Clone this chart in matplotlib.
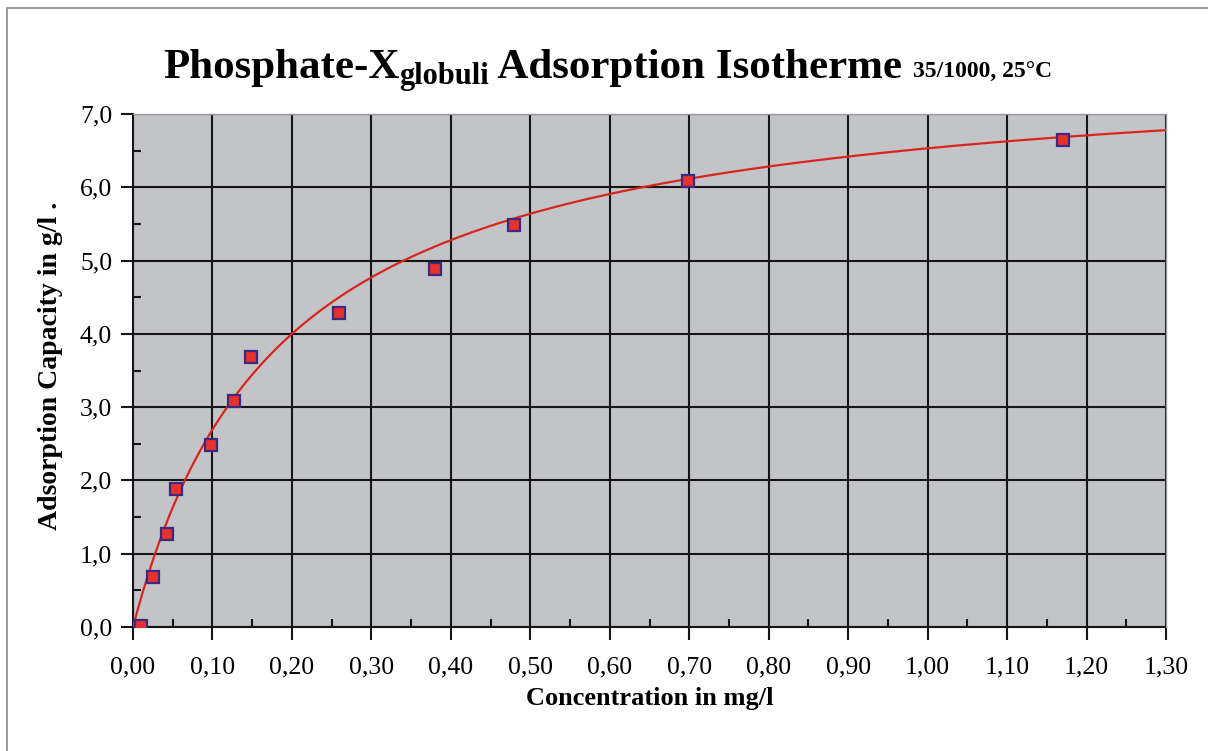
import numpy as np
import matplotlib
matplotlib.use('Agg')
import matplotlib.pyplot as plt
from matplotlib.patches import Rectangle
from matplotlib.ticker import MultipleLocator, FuncFormatter

# measured points (concentration mg/l, capacity g/l)
conc = [0.010, 0.025, 0.043, 0.054, 0.098, 0.127, 0.148, 0.259, 0.380, 0.479, 0.698, 1.170]
capacity = [0.02, 0.68, 1.27, 1.88, 2.48, 3.08, 3.68, 4.28, 4.88, 5.48, 6.08, 6.65]

# Langmuir fit parameters
q_max = 7.76
k_half = 0.188

serif = 'Liberation Serif'
plt.rcParams['font.family'] = [serif, 'DejaVu Serif']

fig = plt.figure(figsize=(12.08, 7.51), dpi=100)
fig.patches.append(Rectangle((7 / 1208, -0.1), 1.2, (751 - 8) / 751 + 0.1,
                             transform=fig.transFigure, fill=False,
                             edgecolor='#8a8a8a', lw=1.2))

ax = fig.add_axes([133 / 1208, 1 - 627 / 751, (1166 - 133) / 1208, (627 - 114) / 751])
ax.set_facecolor('#c3c4c8')
ax.set_xlim(0, 1.30)
ax.set_ylim(0, 7.0)

xs = np.linspace(0, 1.30, 400)
ax.plot(xs, q_max * xs / (k_half + xs), color='#d8261e', lw=1.6, zorder=3)
ax.plot(conc, capacity, ls='none', marker='s', ms=8.5, mfc='#e8302c',
        mec='#3b2a80', mew=1.6, zorder=4)

ax.xaxis.set_major_locator(MultipleLocator(0.1))
ax.xaxis.set_minor_locator(MultipleLocator(0.05))
ax.yaxis.set_major_locator(MultipleLocator(1.0))
ax.yaxis.set_minor_locator(MultipleLocator(0.5))
ax.xaxis.set_major_formatter(FuncFormatter(lambda v, p: f'{v:.2f}'.replace('.', ',')))
ax.yaxis.set_major_formatter(FuncFormatter(lambda v, p: f'{v:.1f}'.replace('.', ',')))

ax.grid(True, which='major', color='#161616', lw=1.5, zorder=1)
ax.set_axisbelow(True)
ax.tick_params(which='major', direction='out', length=9, width=1.5, color='#161616',
               labelsize=18.5)
ax.tick_params(axis='x', which='major', pad=12)
ax.tick_params(axis='y', which='major', pad=6)
ax.tick_params(which='minor', direction='in', length=6, width=1.5, color='#161616')

for s in ['left', 'bottom']:
    ax.spines[s].set_color('#161616')
    ax.spines[s].set_linewidth(1.5)
for s in ['top', 'right']:
    ax.spines[s].set_color('#9a9a9a')
    ax.spines[s].set_linewidth(1.0)
    ax.spines[s].set_zorder(5)

ax.set_xlabel('Concentration in mg/l', fontsize=19, fontweight='bold')
ax.xaxis.set_label_coords(0.5, (627 - 698) / 513)
ax.xaxis.label.set_va('center')
ax.set_ylabel('Adsorption Capacity in g/l .', fontsize=20, fontweight='bold')
ax.yaxis.set_label_coords((51 - 133) / 1033, (627 - 366) / 513)
ax.yaxis.label.set_va('center')

# title built from pieces
pieces = [('Phosphate-X', 31, 0), ('globuli', 22, -6), (' Adsorption Isotherme ', 31, 0),
          ('35/1000, 25°C', 17, 0)]
renderer = fig.canvas.get_renderer()
x0 = 163
base = 751 - 78
for txt, size, dy in pieces:
    t = fig.text(x0 / 1208, (base + dy) / 751, txt, fontsize=size, fontweight='bold',
                 ha='left', va='baseline')
    bb = t.get_window_extent(renderer)
    x0 += bb.width

fig.savefig('out.png', dpi=100)
